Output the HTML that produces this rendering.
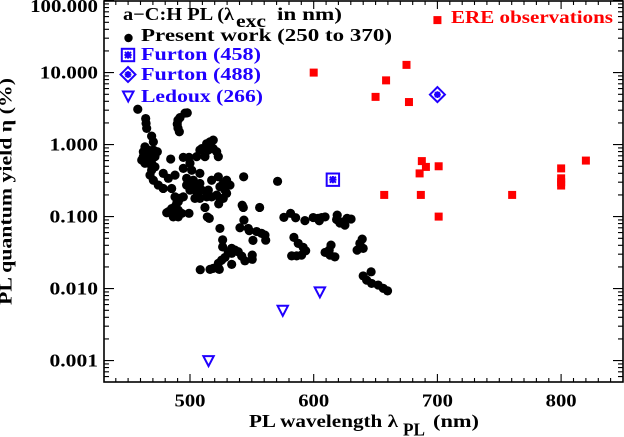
<!DOCTYPE html>
<html>
<head>
<meta charset="utf-8">
<title>PL quantum yield vs PL wavelength</title>
<style>
html,body{margin:0;padding:0;background:#fff;width:624px;height:437px;overflow:hidden}
svg{display:block}
text{font-family:"Liberation Serif","DejaVu Serif",serif;font-weight:bold;fill:#000}
.t{font-size:17.5px}
.b{fill:#2000ff}
.r{fill:#ff0000}
</style>
</head>
<body>
<svg id="chart" width="624" height="437" viewBox="0 0 624 437" xmlns="http://www.w3.org/2000/svg">
  <g id="ticks"></g>
  <rect x="104" y="1" width="519" height="381" fill="none" stroke="#000" stroke-width="1.6"/>
  <g id="labels"></g>
  <g id="present"></g>
  <g id="ere"></g>
  <g id="f458"></g>
  <g id="f488"></g>
  <g id="ledoux"></g>

  <text class="t" x="249" y="427" textLength="149" lengthAdjust="spacingAndGlyphs">PL wavelength λ</text>
  <text class="t" x="403" y="435.5" textLength="22" lengthAdjust="spacingAndGlyphs">PL</text>
  <text class="t" x="433" y="427" textLength="46" lengthAdjust="spacingAndGlyphs">(nm)</text>
  <text class="t" transform="translate(11.5,305) rotate(-90)" textLength="227" lengthAdjust="spacingAndGlyphs">PL quantum yield η (%)</text>

  <g>
    <text class="t" x="123" y="20" textLength="111" lengthAdjust="spacingAndGlyphs">a−C:H PL (λ</text>
    <text class="t" x="236" y="27" textLength="30" lengthAdjust="spacingAndGlyphs">exc</text>
    <text class="t" x="277" y="20" textLength="65" lengthAdjust="spacingAndGlyphs">in nm)</text>
    <circle cx="128.5" cy="38" r="4.2"/>
    <text class="t" x="141" y="41" textLength="251" lengthAdjust="spacingAndGlyphs">Present work (250 to 370)</text>
    <g transform="translate(128,55)" fill="none" stroke="#2000ff" stroke-width="2">
      <rect x="-6.2" y="-6.2" width="12.4" height="12.4"/>
      <path d="M-3.6 0H3.6M0 -3.6V3.6M-3 -3L3 3M-3 3L3 -3"/>
    </g>
    <text class="t b" x="141" y="60" textLength="120" lengthAdjust="spacingAndGlyphs">Furton (458)</text>
    <g transform="translate(128,74.5)" fill="none" stroke="#2000ff" stroke-width="2">
      <path d="M0 -7.5L7.5 0L0 7.5L-7.5 0Z"/>
      <path d="M-3.4 0H3.4M0 -3.4V3.4M-2.4 -2.4L2.4 2.4M-2.4 2.4L2.4 -2.4"/>
    </g>
    <text class="t b" x="141" y="80" textLength="120" lengthAdjust="spacingAndGlyphs">Furton (488)</text>
    <path d="M123 91.5H133.5L128.2 101.5Z" fill="none" stroke="#2000ff" stroke-width="2"/>
    <text class="t b" x="141" y="102" textLength="122" lengthAdjust="spacingAndGlyphs">Ledoux (266)</text>
    <text class="t r" x="451" y="23" textLength="162" lengthAdjust="spacingAndGlyphs">ERE observations</text>
  </g>
</svg>
<script>
const xTickValues = [500, 600, 700, 800];
const xTickLabels = ["500", "600", "700", "800"];
const yTickValues = [100, 10, 1, 0.1, 0.01, 0.001];
const yTickLabels = ["100.000", "10.000", "1.000", "0.100", "0.010", "0.001"];

const presentWavelength = [
  457.8,464.2,464.5,465,469,470.4,497.8,491.9,489.7,490.3,491.4,496,490.3,
  463.6,462.3,466.3,470.4,473.6,461,463.6,467.7,466.3,471.7,469,467.7,470.4,474.4,478.4,471.7,484.4,
  463.6,462.3,466.3,465,469,
  478.4,482.5,487.9,494.6,494.6,499.2,500,501.4,508,516.2,518.8,513.5,508,505.4,512.1,518.8,522.9,521.6,509.5,514.8,
  485.2,487.9,491.9,494.6,489.3,482.5,486.5,490.5,493.3,499.2,485.2,490.5,481.2,487.9,486.5,490.5,
  497.3,501.4,505.4,504,500,508,513.5,517.5,522.9,529.6,532.3,529.6,526.9,521.6,514.8,517.5,523.2,512.1,514,515.6,
  543.4,542.2,543.1,543.6,524.2,540.4,547.1,
  502.7,504,509.5,524.2,528.3,524.2,508,497.3,526.9,
  570.8,556.3,547.9,553.9,557.9,560.6,561.2,550.9,
  526.4,526.4,533.7,533.7,530.9,528.3,525.6,522.9,518.8,516.2,523.7,508.3,533.7,539,541.8,544.4,550.3,550.3,536.4,
  575.9,581.3,585.4,592.9,599.6,603.6,604.5,609.2,606.4,619,618.5,621.2,625.2,627,630.2,623.8,
  584,587.5,591.5,593.5,590.2,586.2,582.2,
  614,612.5,609.2,613.2,617.1,
  639.2,637.3,640,635.1,
  646.4,640,642.8,646.8,652.1,656.2,659.7
];
const presentYield = [
  3.1,2.3,1.97,1.68,1.31,1.09,2.76,2.37,1.93,1.7,1.51,2.74,2.19,
  0.93,0.795,0.84,0.84,0.795,0.61,0.55,0.68,0.55,0.49,0.44,0.377,0.32,0.274,0.246,0.68,0.63,
  0.755,0.68,0.715,0.62,0.55,
  0.398,0.34,0.377,0.467,0.665,0.665,0.55,0.44,0.398,1.09,1.155,1.03,0.84,0.68,0.68,0.88,0.68,0.795,0.88,0.84,
  0.246,0.188,0.179,0.188,0.153,0.117,0.099,0.123,0.111,0.111,0.129,0.099,0.113,0.137,0.117,0.161,
  0.34,0.274,0.221,0.179,0.233,0.289,0.188,0.32,0.357,0.32,0.274,0.21,0.179,0.199,0.233,0.188,0.15,0.134,0.099,0.0945,
  0.357,0.144,0.134,0.0895,0.0685,0.07,0.0685,
  0.32,0.246,0.233,0.26,0.233,0.179,0.179,0.274,0.289,
  0.309,0.134,0.0639,0.062,0.0585,0.0553,0.047,0.0467,
  0.0475,0.038,0.0362,0.0309,0.0325,0.0271,0.0249,0.0224,0.0191,0.0185,0.0185,0.0183,0.0217,0.0325,0.0283,0.0243,0.0292,0.0255,0.0342,
  0.0975,0.111,0.0963,0.088,0.097,0.0945,0.0875,0.099,0.097,0.105,0.091,0.0815,0.076,0.0945,0.0925,0.0845,
  0.0515,0.0425,0.0374,0.0335,0.0292,0.0285,0.0285,
  0.0402,0.0342,0.0318,0.0292,0.0276,
  0.0487,0.0425,0.0362,0.0342,
  0.0171,0.015,0.0131,0.0118,0.0112,0.0101,0.0093
];
const ereWavelength = [700,675,658.5,650,677,600,687.4,690.7,701,685.6,657,686.6,760.4,701,800,800,800,800,820];
const ereYield = [53.6,12.8,7.8,4.6,3.9,10,0.59,0.49,0.5,0.398,0.2,0.2,0.2,0.1,0.467,0.34,0.3,0.27,0.6];
const furton458Wavelength = [615.5];
const furton458Yield = [0.326];
const furton488Wavelength = [700];
const furton488Yield = [4.95];
const ledouxWavelength = [515, 575, 605];
const ledouxYield = [0.001, 0.005, 0.009];

const NS = "http://www.w3.org/2000/svg";
const BLUE = "#2000ff";
const xAxisMin = 430.5, xAxisMax = 850;
const plotLeft = 104, plotRight = 623, plotTop = 1, plotBottom = 382;

function xScale(nm) {
  return plotLeft + (nm - xAxisMin) * (plotRight - plotLeft) / (xAxisMax - xAxisMin);
}
function yScale(v) {
  return 144.6 - 72 * Math.log10(v);
}
function make(tag, attrs, parent) {
  const el = document.createElementNS(NS, tag);
  for (const k in attrs) el.setAttribute(k, attrs[k]);
  parent.appendChild(el);
  return el;
}

const tickGroup = document.getElementById("ticks");
const labelGroup = document.getElementById("labels");

function tickPath(d, name) {
  const el = make("path", {d: d, stroke: "#000", fill: "none", "stroke-width": 1.1}, tickGroup);
  
  
}

let xMajor = "", xMinor = "";
for (let nm = 440; nm <= 840; nm += 10) {
  const x = xScale(nm).toFixed(1);
  const len = xTickValues.includes(nm) ? 8 : 4;
  const seg = "M" + x + " " + plotBottom + "v-" + len + "M" + x + " " + plotTop + "v" + len;
  if (len === 8) xMajor += seg; else xMinor += seg;
}
tickPath(xMajor, "x-major-ticks");
tickPath(xMinor, "x-minor-ticks");

let yMajor = "", yMinor = "";
for (let e = -4; e <= 2; e++) {
  for (let m = 1; m <= 9; m++) {
    const y = yScale(m * Math.pow(10, e));
    if (y > plotBottom || y < plotTop - 0.5) continue;
    const len = m === 1 ? 10 : 5;
    const yy = y.toFixed(1);
    const seg = "M" + plotLeft + " " + yy + "h" + len + "M" + plotRight + " " + yy + "h-" + len;
    if (m === 1) yMajor += seg; else yMinor += seg;
  }
}
tickPath(yMajor, "y-major-ticks");
tickPath(yMinor, "y-minor-ticks");

xTickValues.forEach(function (v, i) {
  const t = make("text", {x: xScale(v), y: 406.5, "text-anchor": "middle", "class": "t", textLength: 31, lengthAdjust: "spacingAndGlyphs"}, labelGroup);
  
  
  t.textContent = xTickLabels[i];
});
yTickValues.forEach(function (v, i) {
  const t = make("text", {x: 98, y: Math.max(yScale(v) + 6, 12), "text-anchor": "end", "class": "t", textLength: yTickLabels[i].length * 9.7, lengthAdjust: "spacingAndGlyphs"}, labelGroup);
  
  
  t.textContent = yTickLabels[i];
});

const presentGroup = document.getElementById("present");
presentWavelength.forEach(function (nm, i) {
  const c = make("circle", {cx: xScale(nm), cy: yScale(presentYield[i]), r: 4.6, fill: "#000"}, presentGroup);
  
  
});

const ereGroup = document.getElementById("ere");
ereWavelength.forEach(function (nm, i) {
  const r = make("rect", {x: xScale(nm) - 4, y: yScale(ereYield[i]) - 4, width: 8, height: 8, fill: "#ff0000"}, ereGroup);
  
  
});

const f458Group = document.getElementById("f458");
furton458Wavelength.forEach(function (nm, i) {
  const x = xScale(nm), y = yScale(furton458Yield[i]);
  const p = make("path", {
    d: "M" + (x - 6.2) + " " + (y - 6.2) + "h12.4v12.4h-12.4zM" + (x - 3.6) + " " + y + "h7.2M" + x + " " + (y - 3.6) + "v7.2M" + (x - 3) + " " + (y - 3) + "l6 6M" + (x - 3) + " " + (y + 3) + "l6 -6",
    fill: "none", stroke: BLUE, "stroke-width": 2
  }, f458Group);
  
  
});

const f488Group = document.getElementById("f488");
furton488Wavelength.forEach(function (nm, i) {
  const x = xScale(nm), y = yScale(furton488Yield[i]);
  const p = make("path", {
    d: "M" + x + " " + (y - 7.5) + "l7.5 7.5l-7.5 7.5l-7.5 -7.5zM" + (x - 3.4) + " " + y + "h6.8M" + x + " " + (y - 3.4) + "v6.8M" + (x - 2.4) + " " + (y - 2.4) + "l4.8 4.8M" + (x - 2.4) + " " + (y + 2.4) + "l4.8 -4.8",
    fill: "none", stroke: BLUE, "stroke-width": 2
  }, f488Group);
  
  
});

const ledouxGroup = document.getElementById("ledoux");
ledouxWavelength.forEach(function (nm, i) {
  const x = xScale(nm), y = yScale(ledouxYield[i]);
  const p = make("path", {
    d: "M" + (x - 5.2) + " " + (y - 4.5) + "h10.4l-5.2 10z",
    fill: "none", stroke: BLUE, "stroke-width": 2
  }, ledouxGroup);
  
  
});
</script>
</body>
</html>
